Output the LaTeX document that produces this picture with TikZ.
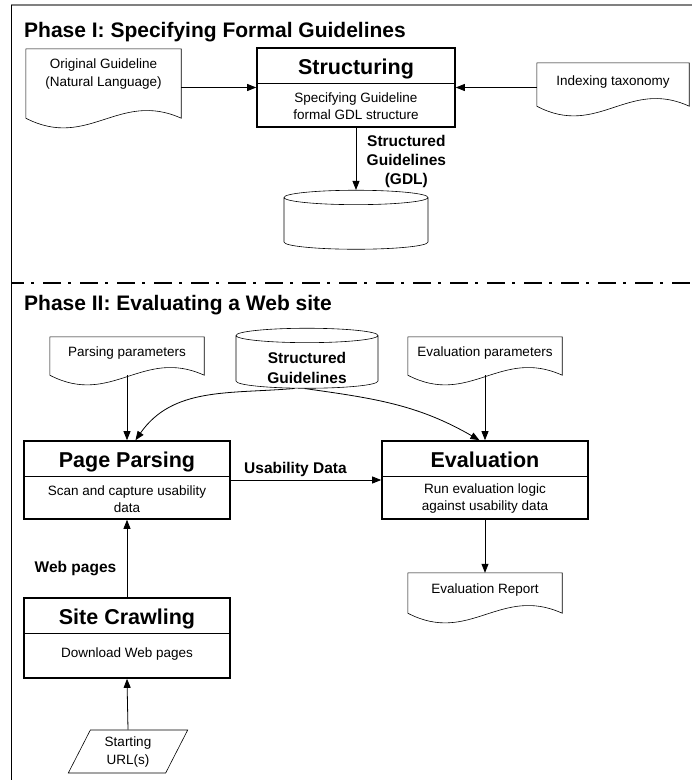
\documentclass[tikz,border=0pt]{standalone}
\usepackage{fontspec}
\setmainfont{Liberation Sans}
\usetikzlibrary{arrows.meta,calc,shapes.geometric}

\begin{document}
\begin{tikzpicture}[x=1pt, y=1pt,
    arr/.style={-{Triangle[length=9pt,width=7pt]}, line width=0.8pt},
    phase/.style={anchor=base west, inner sep=0pt, font=\fontsize{21}{25}\selectfont\bfseries},
    docu/.style={minimum width=154pt, inner sep=0pt, align=center, text depth=8pt,
      font=\fontsize{13.5}{18}\selectfont},
    procbox/.style={draw, line width=1.6pt, minimum width=206pt, minimum height=78pt, inner sep=0pt},
    boxtitle/.style={anchor=base, inner sep=0pt, font=\fontsize{21.5}{25}\selectfont\bfseries},
    boxtext/.style={inner sep=0pt, align=center, font=\fontsize{13.5}{17}\selectfont},
    store/.style={cylinder, shape border rotate=90, draw, line width=0.6pt, aspect=0.18,
      text width=80pt, inner sep=0pt, align=center, font=\fontsize{15.5}{20}\selectfont\bfseries},
    lbl/.style={align=center, font=\fontsize{15.5}{19}\selectfont\bfseries}
  ]
  \useasboundingbox (0,0) rectangle (692,-780);

  % frame and phase separator
  \draw[gray, line width=2pt] (11,-5) -- (692,-5);
  \draw[line width=0.8pt] (11,-5) -- (11,-780);
  \draw[line width=2pt, dash pattern=on 18pt off 7pt on 2.5pt off 9.5pt, dash phase=5pt]
    (11,-283) -- (692,-283);

  \node[phase] (ph1) at (24,-37) {Phase I: Specifying Formal Guidelines};
  \node[phase] (ph2) at (24,-310) {Phase II: Evaluating a Web site};

  % documents
  \node[docu, minimum width=155pt, minimum height=69pt, text depth=22pt] (orig) at (103.5,-83.5)
    {Original Guideline\\(Natural Language)};
  \node[docu, minimum width=152pt, minimum height=43pt] (taxo) at (613,-84.5) {Indexing taxonomy};
  \node[docu, minimum height=38pt] (parse) at (127,-356) {Parsing parameters};
  \node[docu, minimum height=38pt] (evpar) at (485,-356) {Evaluation parameters};
  \node[docu, minimum height=40pt] (report) at (485,-593) {Evaluation Report};

  \foreach \d in {orig,taxo,parse,evpar,report}
    \draw[line width=0.6pt] (\d.south west) -- (\d.north west) -- (\d.north east) -- (\d.south east)
      .. controls ($(\d.south east)!0.4!(\d.south west)+(0,28)$)
      and ($(\d.south east)!0.6!(\d.south west)+(0,-32)$) .. (\d.south west);

  % process boxes
  \node[procbox, minimum width=198pt, minimum height=79pt] (struct) at (356,-87.5) {};
  \node[procbox] (ppars) at (127,-480) {};
  \node[procbox] (eval) at (485,-480) {};
  \node[procbox, minimum height=80pt] (crawl) at (127,-638) {};

  \foreach \b/\t in {struct/Structuring, ppars/Page Parsing, eval/Evaluation, crawl/Site Crawling} {
    \node[boxtitle] (\b-t) at ($(\b.north)+(0,-27)$) {\t};
    \draw[line width=0.8pt] ($(\b.north west)+(0,-36)$) -- ($(\b.north east)+(0,-36)$);
  }
  \node[boxtext] (struct-b) at ($(struct.south)+(0,22)$) {Specifying Guideline\\formal GDL structure};
  \node[boxtext] (ppars-b) at ($(ppars.south)+(0,21)$) {Scan and capture usability\\data};
  \node[boxtext] (eval-b) at ($(eval.south)+(0,21)$) {Run evaluation logic\\against usability data};
  \node[boxtext] (crawl-b) at ($(crawl.south)+(0,25)$) {Download Web pages};

  % stores
  \node[store, minimum width=144pt, minimum height=59pt] (gdl) at (356,-223.5) {};
  \node[store, minimum width=142pt, minimum height=60pt, text height=20pt, text depth=17pt]
    (sg) at (307,-362) {Structured\\Guidelines};

  \node[trapezium, trapezium left angle=66, trapezium right angle=114, trapezium stretches=true,
    draw, line width=0.6pt, minimum width=120pt, minimum height=43pt, inner sep=0pt, align=center,
    font=\fontsize{13.5}{18}\selectfont] (url) at (128,-751.5) {Starting\\URL(s)};

  \path
    (orig.east |- struct.west) edge[arr] (struct.west)
    (taxo.west |- struct.east) edge[arr] (struct.east)
    (struct.south) edge[arr] node[lbl, right, pos=0.55, xshift=7pt] {Structured\\Guidelines\\(GDL)} (gdl.north)
    (parse.south) edge[arr] (ppars.north)
    (evpar.south) edge[arr] (eval.north)
    (sg.245) edge[arr, out=185, in=55] (ppars.78)
    (sg.265) edge[arr, out=-8, in=150] (eval.98)
    (ppars.east) edge[arr] node[lbl, above, pos=0.43] {Usability Data} (eval.west)
    (eval.south) edge[arr] (report.north)
    (crawl.north) edge[arr] node[lbl, left, pos=0.37, xshift=-7pt] {Web pages} (ppars.south)
    (url.north) edge[arr] (crawl.south);
\end{tikzpicture}
\end{document}
